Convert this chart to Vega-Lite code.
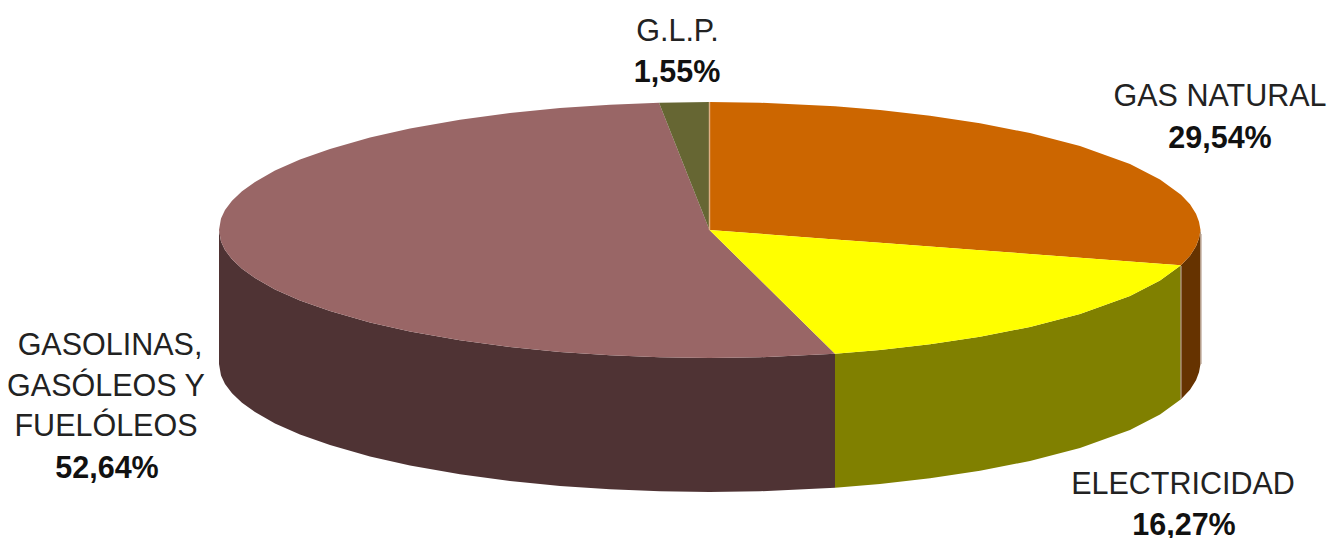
{"$schema":"https://vega.github.io/schema/vega-lite/v6.json","width":1342,"height":538,"autosize":{"type":"none"},"padding":0,"background":"#ffffff","view":{"stroke":null},
"datasets":{
"faces":[
{"part":"side gasolinas","x":219,"y":230,"y2":364},{"part":"side gasolinas","x":221,"y":241.5,"y2":375.5},{"part":"side gasolinas","x":225,"y":250,"y2":384},{"part":"side gasolinas","x":232,"y":259.3,"y2":393.3},{"part":"side gasolinas","x":242,"y":268.7,"y2":402.7},{"part":"side gasolinas","x":255,"y":278.1,"y2":412.1},{"part":"side gasolinas","x":275,"y":289.4,"y2":423.4},{"part":"side gasolinas","x":300,"y":300.5,"y2":434.5},{"part":"side gasolinas","x":330,"y":311.1,"y2":445.1},{"part":"side gasolinas","x":370,"y":322.4,"y2":456.4},{"part":"side gasolinas","x":410,"y":331.4,"y2":465.4},{"part":"side gasolinas","x":460,"y":340.2,"y2":474.2},{"part":"side gasolinas","x":510,"y":346.9,"y2":480.9},{"part":"side gasolinas","x":560,"y":351.9,"y2":485.9},{"part":"side gasolinas","x":610,"y":355.3,"y2":489.3},{"part":"side gasolinas","x":660,"y":357.3,"y2":491.3},{"part":"side gasolinas","x":709.5,"y":358,"y2":492},{"part":"side gasolinas","x":760,"y":357.3,"y2":491.3},{"part":"side gasolinas","x":835,"y":353.7,"y2":487.7},
{"part":"side electricidad","x":835,"y":353.7,"y2":487.7},{"part":"side electricidad","x":880,"y":350,"y2":484},{"part":"side electricidad","x":930,"y":344.3,"y2":478.3},{"part":"side electricidad","x":980,"y":336.8,"y2":470.8},{"part":"side electricidad","x":1030,"y":326.9,"y2":460.9},{"part":"side electricidad","x":1080,"y":313.9,"y2":447.9},{"part":"side electricidad","x":1130,"y":295.9,"y2":429.9},{"part":"side electricidad","x":1160,"y":280.6,"y2":414.6},{"part":"side electricidad","x":1181,"y":265.3,"y2":399.3},
{"part":"side gas","x":1181,"y":265.3,"y2":399.3},{"part":"side gas","x":1190,"y":255.7,"y2":389.7},{"part":"side gas","x":1196,"y":246.3,"y2":380.3},{"part":"side gas","x":1199,"y":238.2,"y2":372.2},{"part":"side gas","x":1200.5,"y":230,"y2":364},
{"part":"top gasolinas","x":219,"y":230,"y2":230},{"part":"top gasolinas","x":221,"y":218.5,"y2":241.5},{"part":"top gasolinas","x":225,"y":210,"y2":250},{"part":"top gasolinas","x":232,"y":200.7,"y2":259.3},{"part":"top gasolinas","x":242,"y":191.3,"y2":268.7},{"part":"top gasolinas","x":255,"y":181.9,"y2":278.1},{"part":"top gasolinas","x":275,"y":170.6,"y2":289.4},{"part":"top gasolinas","x":300,"y":159.5,"y2":300.5},{"part":"top gasolinas","x":330,"y":148.9,"y2":311.1},{"part":"top gasolinas","x":370,"y":137.6,"y2":322.4},{"part":"top gasolinas","x":410,"y":128.6,"y2":331.4},{"part":"top gasolinas","x":460,"y":119.8,"y2":340.2},{"part":"top gasolinas","x":510,"y":113.1,"y2":346.9},{"part":"top gasolinas","x":560,"y":108.1,"y2":351.9},{"part":"top gasolinas","x":610,"y":104.7,"y2":355.3},{"part":"top gasolinas","x":659,"y":102.7,"y2":357.3},{"part":"top gasolinas","x":709.5,"y":230,"y2":358},{"part":"top gasolinas","x":760,"y":279.8,"y2":357.3},{"part":"top gasolinas","x":835,"y":353.7,"y2":353.7},
{"part":"top glp","x":659,"y":102.7,"y2":102.7},{"part":"top glp","x":709.5,"y":102,"y2":230},
{"part":"top gas","x":709.5,"y":102,"y2":230},{"part":"top gas","x":760,"y":102.7,"y2":233.8},{"part":"top gas","x":835,"y":106.3,"y2":239.4},{"part":"top gas","x":880,"y":110,"y2":242.8},{"part":"top gas","x":930,"y":115.7,"y2":246.5},{"part":"top gas","x":980,"y":123.2,"y2":250.3},{"part":"top gas","x":1030,"y":133.1,"y2":254},{"part":"top gas","x":1080,"y":146.1,"y2":257.8},{"part":"top gas","x":1130,"y":164.1,"y2":261.5},{"part":"top gas","x":1160,"y":179.4,"y2":263.8},{"part":"top gas","x":1181,"y":194.7,"y2":265.3},{"part":"top gas","x":1190,"y":204.3,"y2":255.7},{"part":"top gas","x":1196,"y":213.7,"y2":246.3},{"part":"top gas","x":1199,"y":221.8,"y2":238.2},{"part":"top gas","x":1200.5,"y":230,"y2":230},
{"part":"top electricidad","x":709.5,"y":230,"y2":230},{"part":"top electricidad","x":760,"y":233.8,"y2":279.8},{"part":"top electricidad","x":835,"y":239.4,"y2":353.7},{"part":"top electricidad","x":880,"y":242.8,"y2":350},{"part":"top electricidad","x":930,"y":246.5,"y2":344.3},{"part":"top electricidad","x":980,"y":250.3,"y2":336.8},{"part":"top electricidad","x":1030,"y":254,"y2":326.9},{"part":"top electricidad","x":1080,"y":257.8,"y2":313.9},{"part":"top electricidad","x":1130,"y":261.5,"y2":295.9},{"part":"top electricidad","x":1160,"y":263.8,"y2":280.6},{"part":"top electricidad","x":1181,"y":265.3,"y2":265.3}
],
"edges":[
{"x":709.5,"y":102,"y2":230,"kind":"a"},
{"x":1181,"y":266,"y2":399,"kind":"b"},
{"x":1201,"y":234,"y2":364,"kind":"b"}
],
"names":[
{"label":"G.L.P.","x":677.5,"y":32},
{"label":"GAS NATURAL","x":1220,"y":97},
{"label":"ELECTRICIDAD","x":1183,"y":485},
{"label":"GASOLINAS,","x":110,"y":346},
{"label":"GASÓLEOS Y","x":106,"y":387},
{"label":"FUELÓLEOS","x":106,"y":427}
],
"shares":[
{"label":"1,55%","x":677,"y":73},
{"label":"29,54%","x":1220,"y":139},
{"label":"16,27%","x":1184,"y":526},
{"label":"52,64%","x":107,"y":469}
]},
"layer":[
{"data":{"name":"faces"},"mark":{"type":"area","interpolate":"linear","opacity":1},
"encoding":{
"x":{"field":"x","type":"quantitative","scale":{"domain":[0,1342]},"axis":null},
"y":{"field":"y","type":"quantitative","stack":null,"scale":{"domain":[538,0]},"axis":null},
"y2":{"field":"y2"},
"fill":{"field":"part","type":"nominal","legend":null,"scale":{"domain":["side gasolinas","side electricidad","side gas","top gasolinas","top glp","top gas","top electricidad"],"range":["#4f3334","#808000","#663300","#996666","#666633","#cc6600","#ffff00"]}}}},
{"data":{"name":"edges"},"mark":{"type":"rule","strokeWidth":1.5,"opacity":0.8},
"encoding":{
"x":{"field":"x","type":"quantitative","scale":{"domain":[0,1342]},"axis":null},
"y":{"field":"y","type":"quantitative","scale":{"domain":[538,0]},"axis":null},
"y2":{"field":"y2"},
"stroke":{"field":"kind","type":"nominal","legend":null,"scale":{"domain":["a","b"],"range":["#e8b890","#b8a090"]}}}},
{"data":{"name":"names"},"mark":{"type":"text","font":"Liberation Sans","fontSize":30.5,"fill":"#222222","align":"center","baseline":"middle"},
"encoding":{
"x":{"field":"x","type":"quantitative","scale":{"domain":[0,1342]},"axis":null},
"y":{"field":"y","type":"quantitative","scale":{"domain":[538,0]},"axis":null},
"text":{"field":"label"}}},
{"data":{"name":"shares"},"mark":{"type":"text","font":"Liberation Sans","fontSize":30.5,"fontWeight":"bold","fill":"#111111","align":"center","baseline":"middle"},
"encoding":{
"x":{"field":"x","type":"quantitative","scale":{"domain":[0,1342]},"axis":null},
"y":{"field":"y","type":"quantitative","scale":{"domain":[538,0]},"axis":null},
"text":{"field":"label"}}}
]}
